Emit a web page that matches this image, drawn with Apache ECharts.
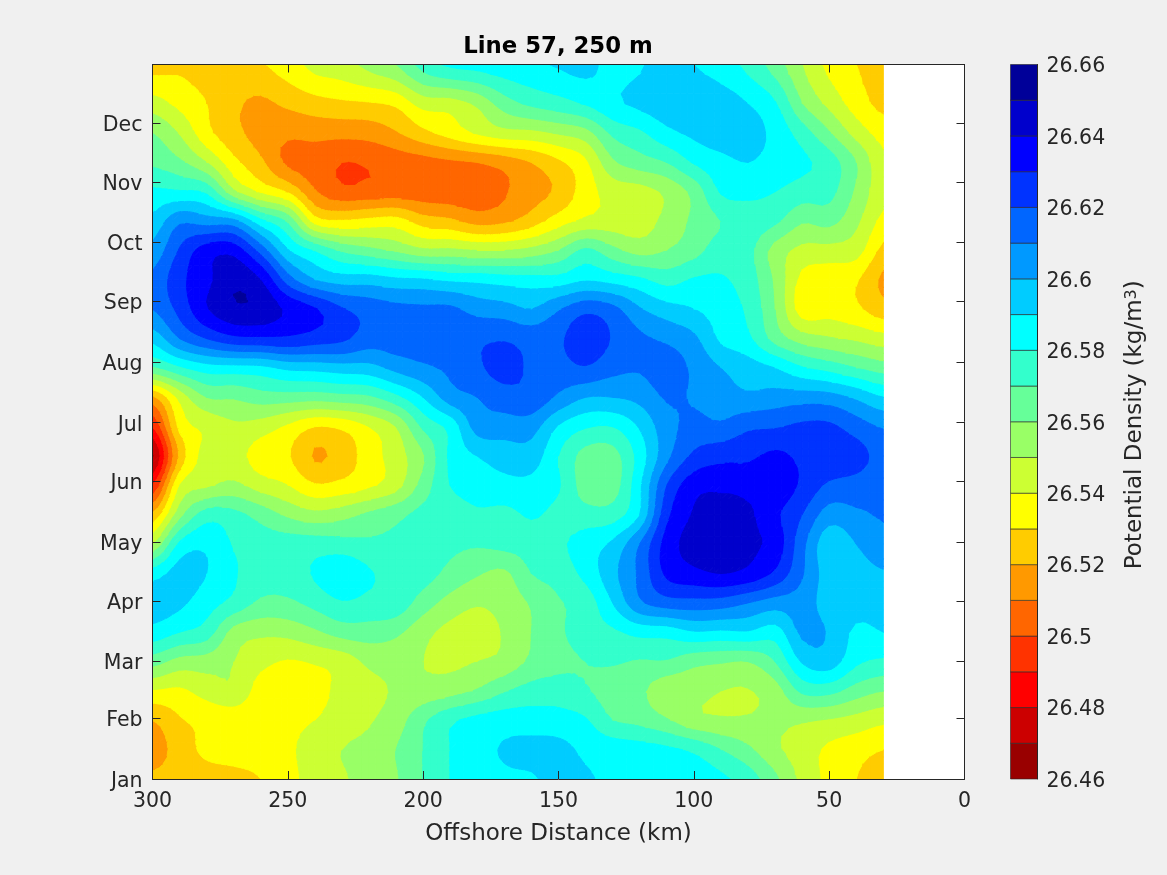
<!DOCTYPE html>
<html><head><meta charset="utf-8">
<style>html,body{margin:0;padding:0;background:#f0f0f0}#c{width:1167px;height:875px}</style>
<script src="https://cdn.jsdelivr.net/npm/echarts@6/dist/echarts.min.js"></script>
</head><body><div id="c"></div>
<script>
const distanceKm = [300,290,280,270,260,250,240,230,220,210,200,190,180,170,160,150,140,130,120,110,100,90,80,70,60,50,40,30];
const rowDays = [0,15,30,45,60,75,90,105,120,135,150,165,180,195,210,225,240,255,270,285,300,315,330,345,365];
const d000 = [26.522,26.525,26.526,26.527,26.530,26.536,26.545,26.549,26.553,26.559,26.570,26.580,26.584,26.588,26.589,26.593,26.591,26.588,26.586,26.585,26.586,26.582,26.575,26.562,26.547,26.537,26.530,26.524];
const d015 = [26.514,26.525,26.532,26.534,26.535,26.538,26.545,26.550,26.553,26.560,26.570,26.580,26.586,26.591,26.593,26.593,26.588,26.586,26.584,26.582,26.578,26.570,26.562,26.552,26.545,26.538,26.534,26.530];
const d030 = [26.520,26.529,26.532,26.533,26.534,26.537,26.540,26.545,26.549,26.555,26.568,26.578,26.583,26.585,26.585,26.584,26.581,26.570,26.567,26.561,26.553,26.551,26.551,26.552,26.551,26.549,26.546,26.542];
const d045 = [26.539,26.538,26.544,26.548,26.535,26.533,26.536,26.543,26.547,26.551,26.553,26.556,26.561,26.569,26.574,26.575,26.571,26.565,26.562,26.553,26.553,26.550,26.5495,26.555,26.572,26.573,26.565,26.560];
const d060 = [26.564,26.556,26.555,26.550,26.543,26.539,26.541,26.544,26.552,26.553,26.550,26.548,26.550,26.553,26.562,26.567,26.570,26.571,26.569,26.569,26.563,26.561,26.560,26.570,26.591,26.595,26.582,26.578];
const d075 = [26.586,26.580,26.575,26.556,26.552,26.553,26.558,26.564,26.565,26.562,26.553,26.547,26.545,26.551,26.560,26.568,26.575,26.578,26.583,26.584,26.589,26.588,26.589,26.585,26.602,26.599,26.588,26.590];
const d090 = [26.595,26.592,26.584,26.577,26.568,26.568,26.573,26.579,26.577,26.576,26.565,26.556,26.551,26.554,26.561,26.569,26.574,26.590,26.608,26.615,26.616,26.615,26.610,26.605,26.605,26.595,26.594,26.593];
const d105 = [26.585,26.594,26.590,26.581,26.575,26.575,26.581,26.587,26.581,26.576,26.574,26.567,26.561,26.558,26.570,26.574,26.583,26.597,26.612,26.632,26.637,26.640,26.637,26.628,26.611,26.595,26.596,26.599];
const d120 = [26.550,26.582,26.588,26.579,26.575,26.575,26.575,26.574,26.572,26.572,26.573,26.572,26.571,26.573,26.575,26.578,26.585,26.592,26.610,26.634,26.644,26.648,26.642,26.636,26.613,26.593,26.600,26.606];
const d135 = [26.522,26.556,26.575,26.573,26.566,26.558,26.553,26.556,26.562,26.567,26.573,26.574,26.578,26.577,26.581,26.577,26.574,26.575,26.590,26.627,26.641,26.648,26.642,26.632,26.620,26.605,26.608,26.611];
const d150 = [26.490,26.540,26.548,26.552,26.545,26.540,26.531,26.533,26.538,26.546,26.564,26.580,26.585,26.587,26.587,26.581,26.565,26.565,26.588,26.620,26.636,26.637,26.636,26.637,26.628,26.618,26.616,26.613];
const d165 = [26.468,26.522,26.544,26.544,26.535,26.531,26.519,26.524,26.535,26.545,26.559,26.582,26.590,26.594,26.595,26.580,26.566,26.566,26.584,26.607,26.622,26.627,26.628,26.632,26.628,26.628,26.624,26.616];
const d180 = [26.490,26.533,26.542,26.548,26.545,26.538,26.530,26.532,26.540,26.550,26.572,26.583,26.604,26.605,26.604,26.589,26.581,26.580,26.591,26.606,26.613,26.612,26.618,26.619,26.622,26.622,26.615,26.609];
const d195 = [26.518,26.543,26.560,26.561,26.565,26.565,26.564,26.566,26.568,26.577,26.590,26.605,26.610,26.615,26.617,26.608,26.600,26.600,26.603,26.611,26.609,26.604,26.602,26.604,26.605,26.604,26.598,26.590];
const d210 = [26.568,26.578,26.585,26.586,26.587,26.592,26.593,26.595,26.596,26.603,26.608,26.612,26.618,26.624,26.618,26.616,26.619,26.613,26.611,26.615,26.608,26.600,26.595,26.590,26.581,26.576,26.570,26.565];
const d225 = [26.593,26.610,26.620,26.627,26.628,26.628,26.625,26.622,26.615,26.615,26.615,26.615,26.618,26.619,26.616,26.618,26.627,26.619,26.612,26.608,26.602,26.588,26.582,26.566,26.555,26.551,26.548,26.544];
const d240 = [26.610,26.623,26.639,26.648,26.647,26.638,26.631,26.621,26.616,26.613,26.612,26.612,26.606,26.604,26.600,26.609,26.617,26.613,26.601,26.594,26.590,26.585,26.578,26.560,26.535,26.536,26.532,26.524];
const d255 = [26.612,26.627,26.637,26.648,26.640,26.615,26.600,26.595,26.595,26.592,26.591,26.588,26.587,26.585,26.584,26.584,26.589,26.586,26.582,26.576,26.581,26.581,26.575,26.558,26.537,26.534,26.531,26.518];
const d270 = [26.603,26.621,26.635,26.636,26.616,26.591,26.579,26.568,26.563,26.558,26.552,26.552,26.550,26.550,26.553,26.560,26.572,26.563,26.556,26.560,26.566,26.575,26.573,26.556,26.547,26.546,26.544,26.527];
const d285 = [26.593,26.608,26.605,26.603,26.583,26.568,26.535,26.531,26.533,26.534,26.525,26.522,26.516,26.518,26.525,26.535,26.542,26.544,26.545,26.553,26.562,26.570,26.576,26.572,26.561,26.563,26.552,26.537];
const d300 = [26.582,26.581,26.578,26.552,26.538,26.529,26.511,26.503,26.504,26.505,26.504,26.504,26.504,26.509,26.516,26.522,26.535,26.544,26.546,26.552,26.563,26.581,26.582,26.580,26.575,26.573,26.558,26.543];
const d315 = [26.568,26.562,26.550,26.533,26.522,26.508,26.505,26.500,26.501,26.504,26.506,26.508,26.510,26.514,26.520,26.528,26.538,26.558,26.565,26.570,26.581,26.587,26.590,26.586,26.582,26.575,26.560,26.542];
const d330 = [26.560,26.549,26.533,26.523,26.516,26.512,26.513,26.513,26.514,26.519,26.527,26.534,26.541,26.546,26.547,26.551,26.556,26.572,26.578,26.587,26.592,26.595,26.594,26.587,26.575,26.561,26.546,26.536];
const d345 = [26.544,26.537,26.530,26.522,26.518,26.522,26.526,26.528,26.529,26.532,26.544,26.545,26.552,26.565,26.572,26.576,26.581,26.588,26.592,26.596,26.597,26.595,26.590,26.581,26.560,26.547,26.535,26.527];
const d365 = [26.526,26.528,26.525,26.525,26.529,26.535,26.543,26.546,26.553,26.560,26.574,26.582,26.584,26.586,26.588,26.591,26.593,26.587,26.589,26.594,26.590,26.585,26.577,26.565,26.550,26.537,26.530,26.526];
const densityRows = [d000,d015,d030,d045,d060,d075,d090,d105,d120,d135,d150,d165,d180,d195,d210,d225,d240,d255,d270,d285,d300,d315,d330,d345,d365];
const monthNames = ['Jan','Feb','Mar','Apr','May','Jun','Jul','Aug','Sep','Oct','Nov','Dec'];
const monthDays = [0,31,60,91,121,152,182,213,244,274,305,335];
const levelMin = 26.46, levelStep = 0.01, levelCount = 20;
const bandColors = ['#990000','#cc0000','#ff0000','#ff3300','#ff6600','#ff9900','#ffcc00','#ffff00','#ccff33','#99ff66','#66ff99','#33ffcc','#00ffff','#00ccff','#0099ff','#0066ff','#0033ff','#0000ff','#0000cc','#000099'];

const ink = '#262626';
const font = '"DejaVu Sans"';
const SUB = 4;

const cells = [];
for (let r = 0; r < rowDays.length - 1; r++) {
  for (let c = 0; c < distanceKm.length - 1; c++) {
    cells.push([distanceKm[c], distanceKm[c+1], rowDays[r], rowDays[r+1], r, c]);
  }
}
function cr(a, b, c, d, t) {
  return b + 0.5 * t * (c - a + t * (2 * a - 5 * b + 4 * c - d + t * (3 * (b - c) + d - a)));
}
function at(r, c) {
  const rr = Math.max(0, Math.min(densityRows.length - 1, r));
  const cc = Math.max(0, Math.min(distanceKm.length - 1, c));
  return densityRows[rr][cc];
}
function surface(r, c, u, v) {
  const row = k => cr(at(r + k, c - 1), at(r + k, c), at(r + k, c + 1), at(r + k, c + 2), u);
  return cr(row(-1), row(0), row(1), row(2), v);
}
function bandOf(v) { return Math.floor((v - levelMin) / levelStep); }
function clip(poly, level, keepAbove) {
  const out = [];
  for (let i = 0; i < poly.length; i++) {
    const a = poly[i], b = poly[(i + 1) % poly.length];
    const ina = keepAbove ? a[2] >= level : a[2] <= level;
    const inb = keepAbove ? b[2] >= level : b[2] <= level;
    if (ina) out.push(a);
    if (ina !== inb) {
      const t = (level - a[2]) / (b[2] - a[2]);
      out.push([a[0] + t * (b[0] - a[0]), a[1] + t * (b[1] - a[1]), level]);
    }
  }
  return out;
}
function renderCell(params, api) {
  const x0 = api.value(0), x1 = api.value(1), y0 = api.value(2), y1 = api.value(3);
  const r = api.value(4), c = api.value(5);
  const children = [];
  const put = (poly, k) => {
    if (k < 0 || k >= levelCount) return;
    children.push({ type: 'polygon',
      shape: { points: poly.map(p => api.coord([p[0], p[1]])) },
      style: { fill: bandColors[k], stroke: bandColors[k], lineWidth: 1 } });
  };
  const node = (i, j) => {
    const u = i / SUB, v = j / SUB;
    return [x0 + u * (x1 - x0), y0 + v * (y1 - y0), surface(r, c, u, v)];
  };
  for (let j = 0; j < SUB; j++) {
    for (let i = 0; i < SUB; i++) {
      const a = node(i, j), b = node(i + 1, j), e = node(i + 1, j + 1), d = node(i, j + 1);
      const ks = [a, b, e, d].map(p => bandOf(p[2]));
      if (ks.every(k => k === ks[0])) { put([a, b, e, d], ks[0]); continue; }
      for (const tri of [[a, b, e], [a, e, d]]) {
        const vs = tri.map(p => p[2]);
        const lo = bandOf(Math.min(...vs)), hi = bandOf(Math.max(...vs));
        for (let k = lo; k <= hi; k++) {
          let poly = clip(tri, levelMin + k * levelStep, true);
          if (poly.length >= 3) poly = clip(poly, levelMin + (k + 1) * levelStep, false);
          if (poly.length >= 3) put(poly, k);
        }
      }
    }
  }
  return { type: 'group', children };
}
const barBands = bandColors.map((c, k) => [0, levelMin + k * levelStep, 1, levelMin + (k + 1) * levelStep, k]);
function renderBand(params, api) {
  const p0 = api.coord([api.value(0), api.value(1)]);
  const p1 = api.coord([api.value(2), api.value(3)]);
  return { type: 'rect',
    shape: { x: p0[0], y: p1[1], width: p1[0] - p0[0], height: p0[1] - p1[1] },
    style: { fill: bandColors[api.value(4)], stroke: ink, lineWidth: 0.6 } };
}
const tickStyle = { show: true, inside: true, length: 8, lineStyle: { color: ink, width: 1 } };
const lineStyle = { show: true, onZero: false, lineStyle: { color: ink, width: 1 } };
const labelText = { color: ink, fontFamily: font, fontSize: 20.5 };
const shifted = { v: { color: ink, fontFamily: font, fontSize: 20.5, padding: [5,0,0,0] } };
const chart = echarts.init(document.getElementById('c'), null, { renderer: 'canvas' });
chart.setOption({
  animation: false,
  backgroundColor: '#f0f0f0',
  title: { text: 'Line 57, 250 m', left: 558, top: 36, padding: 0, textAlign: 'center',
    textStyle: { color: '#000', fontFamily: font, fontSize: 22.8, fontWeight: 'bold' } },
  grid: [
    { left: 152.5, top: 64.5, width: 812, height: 714.5, show: true, backgroundColor: '#ffffff', borderWidth: 0 },
    { left: 1010.5, top: 64.5, width: 27, height: 714.5, show: false }
  ],
  xAxis: [
    { gridIndex: 0, type: 'value', inverse: true, min: 0, max: 300, interval: 50, position: 'bottom', z: 10,
      name: 'Offshore Distance (km)', nameLocation: 'middle', nameGap: 44,
      nameTextStyle: { color: ink, fontFamily: font, fontSize: 23 },
      axisLine: lineStyle, axisTick: tickStyle, splitLine: { show: false },
      axisLabel: { ...labelText, margin: 12 } },
    { gridIndex: 0, type: 'value', inverse: true, min: 0, max: 300, interval: 50, position: 'top', z: 10,
      axisLine: lineStyle, axisTick: tickStyle, splitLine: { show: false }, axisLabel: { show: false } },
    { gridIndex: 1, type: 'value', min: 0, max: 1, show: false }
  ],
  yAxis: [
    { gridIndex: 0, type: 'value', min: 0, max: 365, position: 'left', z: 10,
      axisLine: lineStyle, splitLine: { show: false },
      axisTick: { ...tickStyle, customValues: monthDays },
      axisLabel: { ...labelText, margin: 10, rich: shifted, customValues: monthDays,
        formatter: v => '{v|' + monthNames[monthDays.indexOf(v)] + '}' } },
    { gridIndex: 0, type: 'value', min: 0, max: 365, position: 'right', z: 10,
      axisLine: lineStyle, splitLine: { show: false },
      axisTick: { ...tickStyle, customValues: monthDays },
      axisLabel: { show: false } },
    { gridIndex: 1, type: 'value', min: 26.46, max: 26.66, interval: 0.02, position: 'right', z: 10,
      axisLine: lineStyle, axisTick: { show: false }, splitLine: { show: false },
      axisLabel: { ...labelText, margin: 9, rich: shifted,
        formatter: v => '{v|' + parseFloat(v.toFixed(2)) + '}' },
      name: 'Potential Density (kg/m{s|3})', nameLocation: 'middle', nameGap: 86, nameRotate: 90,
      nameTextStyle: { color: ink, fontFamily: font, fontSize: 23, padding: [0,6,0,0],
        rich: { s: { color: ink, fontFamily: font, fontSize: 16, verticalAlign: 'top', padding: [0,0,8,0] } } } }
  ],
  series: [
    { type: 'custom', xAxisIndex: 0, yAxisIndex: 0, coordinateSystem: 'cartesian2d', clip: true, silent: true,
      renderItem: renderCell, data: cells, z: 1 },
    { type: 'custom', xAxisIndex: 2, yAxisIndex: 2, coordinateSystem: 'cartesian2d', silent: true,
      renderItem: renderBand, data: barBands, z: 1 }
  ]
});
</script></body></html>
